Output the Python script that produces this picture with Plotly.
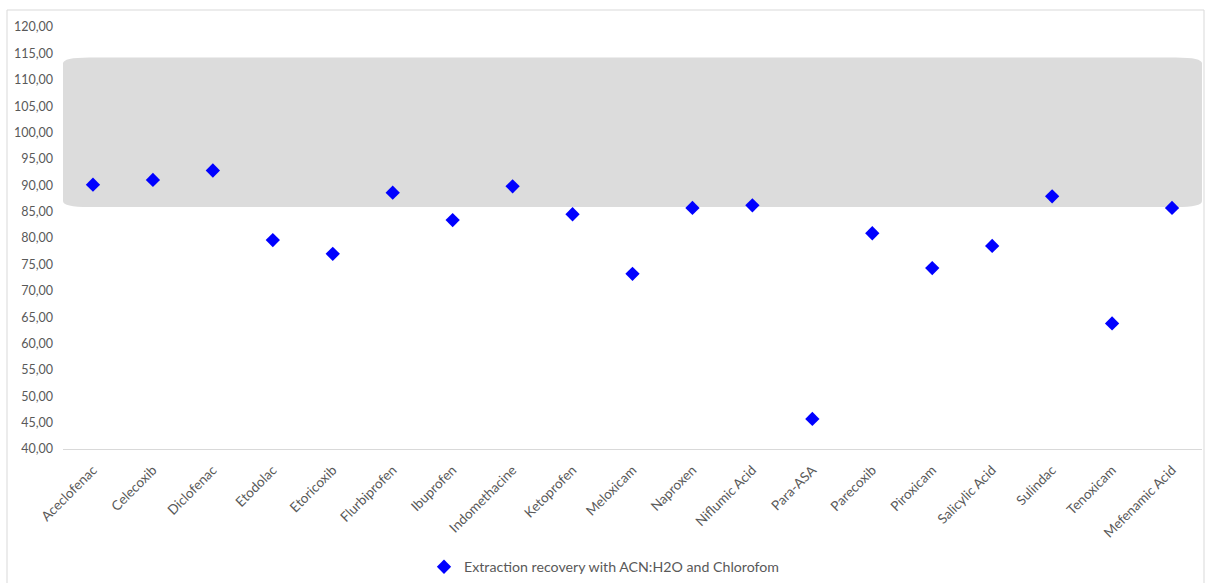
import plotly.graph_objects as go

categories = ["Aceclofenac", "Celecoxib", "Diclofenac", "Etodolac", "Etoricoxib",
              "Flurbiprofen", "Ibuprofen", "Indomethacine", "Ketoprofen", "Meloxicam",
              "Naproxen", "Niflumic Acid", "Para-ASA", "Parecoxib", "Piroxicam",
              "Salicylic Acid", "Sulindac", "Tenoxicam", "Mefenamic Acid"]
recovery = [90.1, 91.0, 92.8, 79.6, 77.0,
            88.6, 83.4, 89.8, 84.5, 73.2,
            85.7, 86.2, 45.7, 80.9, 74.3,
            78.5, 87.9, 63.8, 85.7]
series_name = "Extraction recovery with ACN:H2O and Chlorofom"
band_low, band_high = 85.9, 114.2
y_ticks = [40 + 5 * i for i in range(17)]

W, H = 1206, 583
ML, MR, MT, MB = 63, 4, 27, 134
pw = W - ML - MR
ph = H - MT - MB
ppu = ph / 80.0  # pixels per y unit

fig = go.Figure()
fig.add_trace(go.Scatter(
    x=categories, y=recovery, mode="markers", name=series_name,
    marker=dict(symbol="diamond", size=11, color="#0000FF", line=dict(width=0)),
))

# rounded shaded band
rx = 26 / pw
ry = 6 / ppu
x0, x1 = 0.0, 1.0
y0, y1 = band_low, band_high
path = (f"M {x0+rx},{y1} L {x1-rx},{y1} Q {x1},{y1} {x1},{y1-ry} "
        f"L {x1},{y0+ry} Q {x1},{y0} {x1-rx},{y0} "
        f"L {x0+rx},{y0} Q {x0},{y0} {x0},{y0+ry} "
        f"L {x0},{y1-ry} Q {x0},{y1} {x0+rx},{y1} Z")
shapes = [
    dict(type="path", xref="paper", yref="y", path=path,
         fillcolor="#DCDCDC", line=dict(width=0), layer="below"),
    # outer chart border
    dict(type="rect", xref="paper", yref="paper",
         x0=(7 - ML) / pw, x1=(1204 - ML) / pw,
         y0=(MT + ph - 590) / ph, y1=1 + (MT - 10) / ph,
         line=dict(color="#D9D9D9", width=1), fillcolor="rgba(0,0,0,0)", layer="below"),
]

font_fam = "Lato, 'Open Sans', sans-serif"
fig.update_layout(
    width=W, height=H,
    margin=dict(l=ML, r=MR, t=MT, b=MB, autoexpand=False),
    paper_bgcolor="white", plot_bgcolor="white",
    separators=", ",
    shapes=shapes,
    showlegend=True,
    legend=dict(orientation="h", xref="container", yref="container",
                x=424 / W, xanchor="left",
                y=1 - 567 / H, yanchor="middle",
                font=dict(family=font_fam, size=14.2, color="#595959"),
                bgcolor="rgba(0,0,0,0)"),
    font=dict(family=font_fam, color="#595959"),
    xaxis=dict(type="category", showgrid=False, showline=True, linecolor="#D9D9D9",
               linewidth=1, tickangle=-45, ticks="", zeroline=False, automargin=False,
               ticklabelstandoff=7,
               tickfont=dict(family=font_fam, size=13.5, color="#595959"),
               range=[-0.5, len(categories) - 0.5]),
    yaxis=dict(range=[40, 120], tickvals=y_ticks, tickformat=".2f", showgrid=False,
               zeroline=False, showline=False, ticks="", automargin=False,
               ticklabelstandoff=9,
               tickfont=dict(family=font_fam, size=12.5, color="#595959")),
)

fig.write_html("out.html", config={"displayModeBar": False},
               post_script="document.body.style.margin='0px';document.body.style.overflow='hidden';")
